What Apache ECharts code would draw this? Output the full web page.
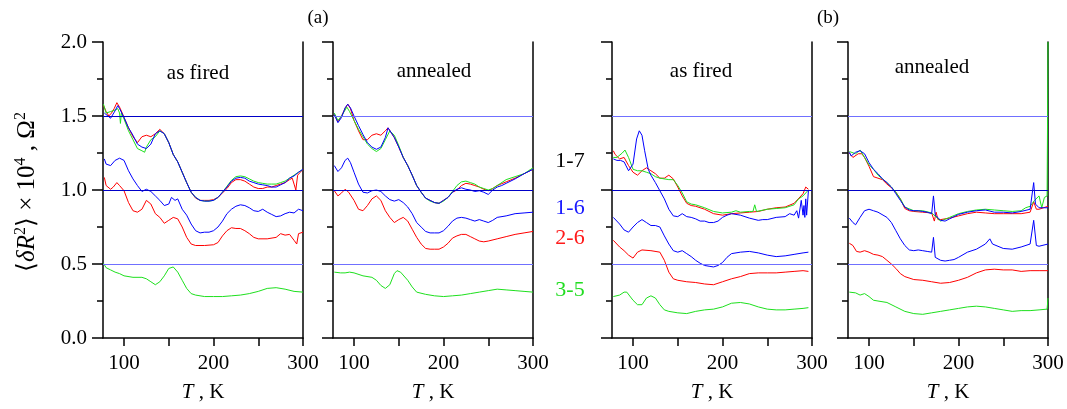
<!DOCTYPE html>
<html><head><meta charset="utf-8">
<script src="https://cdn.jsdelivr.net/npm/echarts@6/dist/echarts.min.js"></script>
<style>html,body{margin:0;padding:0;background:#fff}#c{width:1067px;height:409px}</style>
</head><body><div id="c"></div>
<script>
// ---------- axis / tick values ----------
const xMin = 76.5, xMax = 300;
const xLabelValues = [100, 200, 300];
const xTickValues = [100, 150, 200, 250, 300];
const yMin = 0, yMax = 2.0, yStep = 0.5;
const refLevels = [0.5, 1.0, 1.5];
const panelTitles = ['as fired', 'annealed', 'as fired', 'annealed'];
const pairLabels = ['1-7', '1-6', '2-6', '3-5'];

// ---------- panel 1 (a, as fired) ----------
const p1_17_red = [[77,1.57],[80,1.53],[83,1.50],[86,1.52],[89,1.55],[92,1.59],[95,1.56],[98,1.52],[100,1.49],[105,1.42],[110,1.36],[115,1.32],[120,1.36],[125,1.37],[130,1.36],[135,1.38],[140,1.41],[145,1.38],[150,1.32],[155,1.24],[160,1.19],[165,1.12],[170,1.05],[175,0.985],[180,0.945],[185,0.93],[190,0.93],[195,0.93],[200,0.935],[205,0.95],[210,0.98],[215,1.01],[220,1.05],[225,1.07],[230,1.07],[235,1.06],[240,1.04],[245,1.02],[250,1.01],[255,1.01],[260,1.02],[265,1.02],[270,1.03],[275,1.04],[280,1.05],[285,1.07],[288,1.08],[290,1.04],[292,1.0],[294,1.10],[297,1.12],[300,1.14]];
const p1_17_green = [[77,1.58],[80,1.52],[85,1.53],[90,1.54],[93,1.55],[95,1.52],[96,1.45],[97,1.52],[100,1.48],[105,1.40],[110,1.34],[115,1.28],[120,1.265],[123,1.255],[125,1.29],[130,1.34],[135,1.36],[140,1.40],[145,1.38],[150,1.32],[155,1.24],[160,1.19],[165,1.12],[170,1.05],[175,0.985],[180,0.95],[185,0.93],[190,0.925],[195,0.925],[200,0.93],[205,0.95],[210,0.985],[215,1.025],[220,1.065],[225,1.09],[230,1.095],[235,1.09],[240,1.075],[245,1.06],[250,1.05],[255,1.045],[260,1.04],[265,1.04],[270,1.04],[275,1.05],[280,1.06],[285,1.08],[290,1.10],[295,1.12],[300,1.14]];
const p1_17_blue = [[78,1.52],[80,1.51],[85,1.485],[90,1.535],[93,1.57],[95,1.55],[100,1.49],[105,1.42],[110,1.37],[115,1.31],[120,1.29],[125,1.28],[130,1.31],[135,1.38],[140,1.40],[145,1.38],[150,1.32],[155,1.24],[160,1.19],[165,1.12],[170,1.05],[175,0.985],[180,0.95],[185,0.93],[190,0.925],[195,0.925],[200,0.93],[205,0.95],[210,0.985],[215,1.02],[220,1.06],[225,1.08],[230,1.085],[235,1.08],[240,1.06],[245,1.05],[250,1.04],[255,1.035],[260,1.03],[265,1.02],[270,1.02],[275,1.035],[280,1.05],[285,1.08],[290,1.095],[295,1.12],[300,1.14]];
const p1_16_blue = [[78,1.21],[80,1.175],[85,1.165],[90,1.20],[95,1.215],[100,1.20],[105,1.13],[110,1.075],[115,1.03],[120,0.99],[125,1.005],[130,0.99],[135,0.96],[140,0.93],[145,0.895],[150,0.905],[153,0.95],[157,0.93],[160,0.94],[165,0.87],[170,0.83],[175,0.77],[180,0.725],[185,0.71],[190,0.715],[195,0.715],[200,0.725],[205,0.75],[210,0.79],[215,0.84],[220,0.87],[225,0.89],[230,0.90],[235,0.895],[240,0.88],[245,0.86],[250,0.855],[255,0.87],[260,0.85],[265,0.835],[270,0.82],[275,0.825],[280,0.84],[285,0.85],[290,0.845],[295,0.87],[300,0.86]];
const p1_26_red = [[78,1.085],[80,1.03],[85,1.005],[88,1.02],[92,1.05],[95,1.03],[100,0.995],[105,0.915],[110,0.86],[115,0.85],[120,0.87],[125,0.93],[130,0.905],[135,0.84],[140,0.815],[145,0.775],[150,0.795],[155,0.815],[160,0.805],[165,0.75],[170,0.68],[175,0.635],[180,0.625],[190,0.625],[200,0.63],[205,0.645],[210,0.69],[215,0.725],[220,0.745],[225,0.74],[230,0.74],[235,0.725],[240,0.705],[245,0.68],[250,0.67],[260,0.67],[270,0.68],[275,0.705],[280,0.695],[285,0.70],[290,0.66],[293,0.635],[295,0.705],[300,0.715]];
const p1_35_green = [[77,0.505],[80,0.475],[85,0.46],[90,0.445],[95,0.435],[100,0.42],[110,0.41],[120,0.41],[125,0.40],[130,0.38],[135,0.36],[140,0.38],[145,0.42],[150,0.47],[155,0.48],[160,0.445],[165,0.39],[170,0.335],[175,0.30],[180,0.29],[190,0.28],[200,0.28],[210,0.28],[220,0.285],[230,0.29],[240,0.30],[250,0.315],[260,0.335],[270,0.34],[280,0.33],[290,0.315],[300,0.31]];

// ---------- panel 2 (a, annealed) ----------
const p2_17_red = [[78,1.51],[82,1.46],[86,1.50],[90,1.55],[93,1.58],[96,1.55],[100,1.47],[105,1.40],[110,1.34],[115,1.34],[120,1.37],[125,1.38],[130,1.37],[135,1.40],[138,1.42],[140,1.42],[145,1.355],[150,1.29],[155,1.22],[160,1.165],[165,1.10],[170,1.03],[175,0.985],[180,0.945],[185,0.93],[190,0.915],[195,0.91],[200,0.93],[205,0.95],[210,0.985],[215,1.00],[220,1.03],[225,1.045],[230,1.04],[235,1.03],[240,1.02],[245,1.005],[250,0.995],[255,1.01],[260,1.03],[270,1.055],[280,1.08],[290,1.11],[300,1.14]];
const p2_17_green = [[78,1.52],[82,1.47],[86,1.50],[92,1.56],[95,1.53],[100,1.47],[105,1.41],[110,1.36],[115,1.31],[120,1.28],[125,1.26],[130,1.28],[135,1.34],[140,1.40],[142,1.40],[145,1.37],[150,1.30],[155,1.22],[160,1.165],[165,1.10],[170,1.03],[175,0.985],[180,0.945],[185,0.925],[190,0.915],[195,0.91],[200,0.925],[205,0.95],[210,0.99],[215,1.03],[220,1.055],[225,1.06],[230,1.05],[235,1.04],[240,1.02],[245,1.01],[250,1.0],[255,1.01],[260,1.03],[270,1.07],[280,1.09],[290,1.11],[300,1.15]];
const p2_17_blue = [[78,1.51],[82,1.455],[86,1.49],[90,1.555],[93,1.58],[96,1.555],[100,1.50],[105,1.435],[110,1.375],[115,1.32],[120,1.29],[125,1.275],[130,1.29],[135,1.355],[138,1.42],[140,1.42],[145,1.355],[150,1.29],[155,1.22],[160,1.165],[165,1.10],[170,1.03],[175,0.985],[180,0.945],[185,0.93],[190,0.915],[195,0.91],[200,0.93],[205,0.95],[210,0.985],[215,1.005],[220,1.015],[225,1.005],[230,1.0],[235,0.99],[240,0.995],[245,0.985],[250,0.97],[255,1.0],[260,1.02],[265,1.03],[270,1.045],[280,1.075],[290,1.11],[300,1.14]];
const p2_16_blue = [[78,1.165],[82,1.125],[86,1.15],[90,1.20],[93,1.215],[96,1.185],[100,1.12],[105,1.04],[110,0.985],[115,0.98],[120,0.995],[125,1.0],[130,0.99],[135,0.96],[140,0.935],[145,0.925],[150,0.935],[155,0.915],[160,0.885],[165,0.84],[170,0.78],[175,0.75],[180,0.72],[185,0.71],[190,0.71],[195,0.71],[200,0.725],[205,0.755],[210,0.79],[215,0.81],[220,0.815],[225,0.81],[230,0.80],[235,0.79],[240,0.80],[245,0.79],[250,0.78],[255,0.795],[260,0.815],[270,0.825],[280,0.84],[290,0.845],[300,0.85]];
const p2_26_red = [[78,0.995],[82,0.96],[86,0.98],[90,1.005],[94,0.985],[100,0.93],[105,0.87],[110,0.86],[115,0.895],[120,0.94],[125,0.96],[130,0.93],[135,0.86],[140,0.815],[145,0.78],[150,0.80],[155,0.815],[160,0.79],[165,0.735],[170,0.68],[175,0.635],[180,0.605],[185,0.60],[190,0.60],[195,0.60],[200,0.615],[205,0.64],[210,0.675],[215,0.69],[220,0.70],[225,0.70],[230,0.685],[235,0.67],[240,0.655],[245,0.65],[250,0.655],[260,0.67],[270,0.685],[280,0.70],[290,0.71],[300,0.72]];
const p2_35_green = [[78,0.445],[85,0.44],[90,0.44],[95,0.445],[100,0.44],[110,0.42],[120,0.41],[125,0.39],[130,0.355],[135,0.335],[140,0.36],[145,0.435],[148,0.455],[152,0.445],[160,0.39],[165,0.345],[170,0.31],[180,0.295],[190,0.285],[200,0.28],[210,0.285],[220,0.29],[230,0.30],[240,0.31],[250,0.32],[260,0.33],[270,0.325],[280,0.32],[290,0.315],[300,0.31]];

// ---------- panel 3 (b, as fired) ----------
const p3_17_red = [[78,1.265],[80,1.24],[85,1.21],[90,1.22],[95,1.165],[100,1.12],[105,1.10],[110,1.13],[115,1.15],[120,1.13],[125,1.11],[130,1.08],[135,1.08],[140,1.10],[145,1.075],[150,1.02],[155,0.96],[160,0.91],[165,0.895],[170,0.89],[180,0.87],[190,0.84],[200,0.83],[210,0.84],[220,0.845],[230,0.85],[240,0.855],[250,0.87],[260,0.88],[270,0.885],[280,0.91],[290,0.975],[293,1.02],[296,1.005]];
const p3_17_green = [[78,1.22],[82,1.22],[88,1.25],[91,1.27],[95,1.22],[100,1.14],[105,1.13],[110,1.13],[115,1.12],[120,1.11],[125,1.09],[130,1.08],[140,1.07],[145,1.07],[150,1.03],[155,0.98],[160,0.92],[165,0.905],[170,0.90],[180,0.88],[190,0.855],[200,0.845],[210,0.85],[215,0.86],[220,0.85],[230,0.855],[234,0.855],[236,0.90],[238,0.855],[250,0.87],[260,0.875],[270,0.88],[280,0.90],[285,0.94],[290,0.96],[296,1.0]];
const p3_17_blue = [[78,1.21],[82,1.20],[86,1.20],[90,1.19],[95,1.13],[100,1.175],[104,1.345],[107,1.40],[110,1.37],[113,1.265],[117,1.14],[120,1.10],[125,1.05],[130,0.995],[135,0.94],[140,0.87],[145,0.825],[150,0.82],[155,0.84],[160,0.82],[165,0.815],[170,0.805],[175,0.79],[180,0.79],[185,0.78],[190,0.78],[195,0.79],[200,0.815],[205,0.83],[210,0.84],[220,0.83],[230,0.81],[240,0.795],[245,0.80],[250,0.80],[260,0.815],[270,0.82],[275,0.84],[280,0.83],[283,0.86],[285,0.81],[288,0.93],[290,0.83],[291,0.895],[292,0.815],[293,0.94],[294,0.83],[296,0.995]];
const p3_16_blue = [[78,0.815],[85,0.77],[90,0.73],[95,0.715],[100,0.75],[105,0.78],[110,0.80],[115,0.78],[120,0.76],[125,0.76],[130,0.75],[135,0.69],[140,0.635],[145,0.59],[150,0.58],[155,0.59],[160,0.57],[165,0.55],[170,0.525],[175,0.505],[180,0.49],[185,0.485],[190,0.48],[195,0.49],[200,0.51],[205,0.545],[210,0.57],[220,0.58],[230,0.585],[240,0.575],[250,0.56],[260,0.55],[270,0.555],[280,0.565],[290,0.575],[296,0.58]];
const p3_26_red = [[78,0.66],[85,0.615],[90,0.59],[95,0.56],[100,0.54],[105,0.58],[110,0.595],[120,0.59],[130,0.58],[135,0.525],[140,0.445],[145,0.40],[150,0.39],[160,0.38],[170,0.375],[180,0.365],[190,0.36],[200,0.38],[210,0.40],[220,0.415],[230,0.435],[240,0.44],[250,0.44],[260,0.44],[270,0.445],[280,0.45],[290,0.455],[296,0.45]];
const p3_35_green = [[78,0.28],[80,0.27],[85,0.29],[90,0.31],[93,0.31],[100,0.255],[105,0.225],[110,0.225],[115,0.27],[120,0.285],[125,0.27],[130,0.225],[135,0.19],[140,0.18],[150,0.17],[160,0.165],[170,0.18],[180,0.19],[190,0.195],[200,0.21],[210,0.235],[220,0.24],[230,0.23],[240,0.21],[250,0.195],[260,0.19],[270,0.19],[280,0.195],[290,0.20],[296,0.205]];

// ---------- panel 4 (b, annealed) ----------
const p4_17_red = [[78,1.25],[82,1.22],[88,1.245],[92,1.245],[95,1.22],[100,1.16],[105,1.09],[110,1.08],[115,1.07],[120,1.04],[125,1.015],[130,0.985],[135,0.94],[140,0.875],[145,0.86],[150,0.855],[160,0.85],[170,0.845],[173,0.79],[175,0.85],[177,0.80],[180,0.80],[190,0.81],[200,0.825],[210,0.84],[220,0.85],[230,0.845],[240,0.84],[250,0.84],[260,0.84],[270,0.84],[280,0.85],[284,0.92],[287,0.87],[290,0.87],[300,0.89]];
const p4_17_green = [[78,1.26],[85,1.245],[90,1.27],[95,1.22],[100,1.17],[105,1.14],[110,1.10],[115,1.075],[120,1.05],[125,1.02],[130,0.985],[135,0.94],[140,0.885],[150,0.86],[160,0.86],[170,0.845],[180,0.79],[190,0.815],[200,0.84],[210,0.855],[220,0.865],[230,0.87],[240,0.865],[250,0.86],[260,0.855],[270,0.86],[275,0.88],[280,0.89],[285,0.93],[290,0.96],[293,0.88],[296,0.95],[299,0.96],[300,2.0]];
const p4_17_blue = [[78,1.255],[80,1.23],[85,1.255],[90,1.265],[95,1.245],[100,1.185],[105,1.14],[110,1.11],[115,1.075],[120,1.05],[125,1.02],[130,0.975],[135,0.93],[140,0.885],[145,0.865],[150,0.86],[155,0.86],[160,0.855],[165,0.85],[170,0.84],[172,0.96],[174,0.83],[180,0.795],[185,0.79],[190,0.805],[195,0.82],[200,0.835],[210,0.85],[220,0.86],[230,0.865],[240,0.85],[250,0.85],[260,0.845],[270,0.855],[280,0.87],[284,1.05],[286,0.905],[290,0.88],[295,0.88],[300,0.88]];
const p4_16_blue = [[78,0.81],[82,0.78],[85,0.765],[90,0.815],[95,0.86],[100,0.87],[105,0.86],[110,0.85],[120,0.815],[125,0.78],[130,0.725],[135,0.67],[140,0.625],[145,0.595],[150,0.59],[155,0.595],[160,0.59],[165,0.585],[170,0.58],[172,0.68],[174,0.545],[180,0.525],[185,0.52],[190,0.525],[195,0.53],[200,0.545],[210,0.58],[220,0.60],[230,0.635],[235,0.67],[238,0.635],[240,0.625],[250,0.605],[260,0.60],[270,0.615],[280,0.635],[284,0.795],[287,0.625],[290,0.62],[300,0.635]];
const p4_26_red = [[78,0.64],[82,0.625],[86,0.585],[90,0.58],[95,0.59],[100,0.58],[105,0.565],[110,0.56],[115,0.55],[120,0.525],[125,0.50],[130,0.47],[135,0.435],[140,0.415],[150,0.395],[160,0.39],[170,0.38],[180,0.37],[190,0.375],[200,0.39],[210,0.41],[220,0.44],[230,0.46],[240,0.465],[250,0.46],[260,0.46],[270,0.45],[280,0.455],[290,0.455],[300,0.455]];
const p4_35_green = [[78,0.31],[85,0.305],[90,0.29],[95,0.30],[100,0.28],[105,0.255],[110,0.25],[120,0.24],[130,0.21],[140,0.18],[150,0.165],[160,0.16],[170,0.17],[180,0.18],[190,0.19],[200,0.20],[210,0.21],[220,0.215],[230,0.21],[240,0.20],[250,0.19],[260,0.18],[270,0.185],[280,0.185],[290,0.19],[299,0.195],[300,0.27]];

// ---------- build ----------
const panels = [
  {red17:p1_17_red, green17:p1_17_green, blue17:p1_17_blue, b16:p1_16_blue, r26:p1_26_red, g35:p1_35_green},
  {red17:p2_17_red, green17:p2_17_green, blue17:p2_17_blue, b16:p2_16_blue, r26:p2_26_red, g35:p2_35_green},
  {red17:p3_17_red, green17:p3_17_green, blue17:p3_17_blue, b16:p3_16_blue, r26:p3_26_red, g35:p3_35_green},
  {red17:p4_17_red, green17:p4_17_green, blue17:p4_17_blue, b16:p4_16_blue, r26:p4_26_red, g35:p4_35_green}
];
const gridLefts = [103, 333, 612, 848];
const gridWidth = 200, gridTop = 42, gridHeight = 296;
const RED = '#ff0000', GREEN = '#1ee01e', BLUE = '#0000ff';
const DARKREF = '#0000c8', LIGHTREF = '#7070ff';
const refColors = [
  [LIGHTREF, DARKREF, DARKREF],
  [LIGHTREF, DARKREF, LIGHTREF],
  [LIGHTREF, DARKREF, LIGHTREF],
  [LIGHTREF, DARKREF, LIGHTREF]
];
const SERIF = 'Liberation Serif';

const grid = [], xAxis = [], yAxis = [], series = [], graphic = [];
panels.forEach((p, i) => {
  grid.push({left: gridLefts[i], top: gridTop, width: gridWidth, height: gridHeight, containLabel: false});
  xAxis.push({
    type: 'value', gridIndex: i, min: xMin, max: xMax, position: 'bottom',
    axisLine: {show: true, onZero: false, lineStyle: {color: '#000', width: 1.5}},
    axisTick: {show: true, customValues: xTickValues, length: 8, lineStyle: {color: '#000', width: 1.5}},
    axisLabel: {show: true, customValues: xLabelValues, fontFamily: SERIF, fontSize: 21, color: '#000', margin: 15},
    splitLine: {show: false},
    name: '{i|T} , K', nameLocation: 'middle', nameGap: 44,
    nameTextStyle: {fontFamily: SERIF, fontSize: 21, color: '#000',
      rich: {i: {fontFamily: SERIF, fontStyle: 'italic', fontSize: 21, color: '#000'}}}
  });
  yAxis.push({
    type: 'value', gridIndex: i, min: yMin, max: yMax, interval: yStep, position: 'left',
    axisLine: {show: true, onZero: false, lineStyle: {color: '#000', width: 1.5}},
    axisTick: {show: true, length: 11, lineStyle: {color: '#000', width: 1.5}},
    minorTick: {show: true, splitNumber: 2, length: 6, lineStyle: {color: '#000', width: 1.5}},
    axisLabel: {show: i === 0, fontFamily: SERIF, fontSize: 21, color: '#000', margin: 16,
      formatter: v => v.toFixed(1)},
    splitLine: {show: false}
  });
  yAxis.push({
    type: 'value', gridIndex: i, min: yMin, max: yMax, position: 'right',
    axisLine: {show: true, onZero: false, lineStyle: {color: '#000', width: 1.5}},
    axisTick: {show: false}, axisLabel: {show: false}, splitLine: {show: false}
  });
  const xi = i, yi = i * 2;
  const mk = (data, color, extra) => Object.assign({
    type: 'line', xAxisIndex: xi, yAxisIndex: yi, data: data, showSymbol: false, symbol: 'none',
    lineStyle: {color: color, width: 1}, itemStyle: {color: color}, animation: false, silent: true
  }, extra || {});
  series.push(mk(p.g35, GREEN, {
    markLine: {silent: true, symbol: ['none', 'none'], label: {show: false}, animation: false,
      data: refLevels.map((v, k) => ({yAxis: v, lineStyle: {color: refColors[i][k], width: 1.2, type: 'solid'}}))}
  }));
  series.push(mk(p.r26, RED));
  series.push(mk(p.b16, BLUE));
  series.push(mk(p.red17, RED));
  series.push(mk(p.green17, GREEN));
  series.push(mk(p.blue17, BLUE));
});

// panel titles
const titleX = [198, 434, 701, 932];
const titleY = [73, 71, 71, 67];
panelTitles.forEach((t, i) => graphic.push({type: 'text', x: titleX[i], y: titleY[i],
  style: {text: t, fontFamily: SERIF, fontSize: 21, fill: '#000', align: 'center', verticalAlign: 'middle'}}));
// (a) (b)
graphic.push({type: 'text', x: 318, y: 18, style: {text: '(a)', fontFamily: SERIF, fontSize: 19, fill: '#000', align: 'center', verticalAlign: 'middle'}});
graphic.push({type: 'text', x: 828, y: 18, style: {text: '(b)', fontFamily: SERIF, fontSize: 19, fill: '#000', align: 'center', verticalAlign: 'middle'}});
// pair labels
const pairColors = ['#000000', '#1a1aff', '#ff1a1a', '#22dd22'];
const pairY = [161, 208, 238, 290];
pairLabels.forEach((t, k) => graphic.push({type: 'text', x: 570, y: pairY[k],
  style: {text: t, fontFamily: SERIF, fontSize: 22, fill: pairColors[k], align: 'center', verticalAlign: 'middle'}}));
// y axis name
graphic.push({type: 'text', x: 27, y: 192, rotation: Math.PI / 2,
  style: {text: '{n|⟨}{i|δR}{s|2}{n|⟩ × 10}{s|4}{n| , Ω}{s|2}', align: 'center', verticalAlign: 'middle',
    rich: {
      n: {fontFamily: SERIF, fontSize: 25, fill: '#000'},
      i: {fontFamily: SERIF, fontStyle: 'italic', fontSize: 25, fill: '#000'},
      s: {fontFamily: SERIF, fontSize: 16, fill: '#000', padding: [0, 0, 12, 0]}
    }}});

const chart = echarts.init(document.getElementById('c'), null, {renderer: 'canvas'});
chart.setOption({animation: false, backgroundColor: '#fff', grid, xAxis, yAxis, series, graphic});
</script></body></html>
